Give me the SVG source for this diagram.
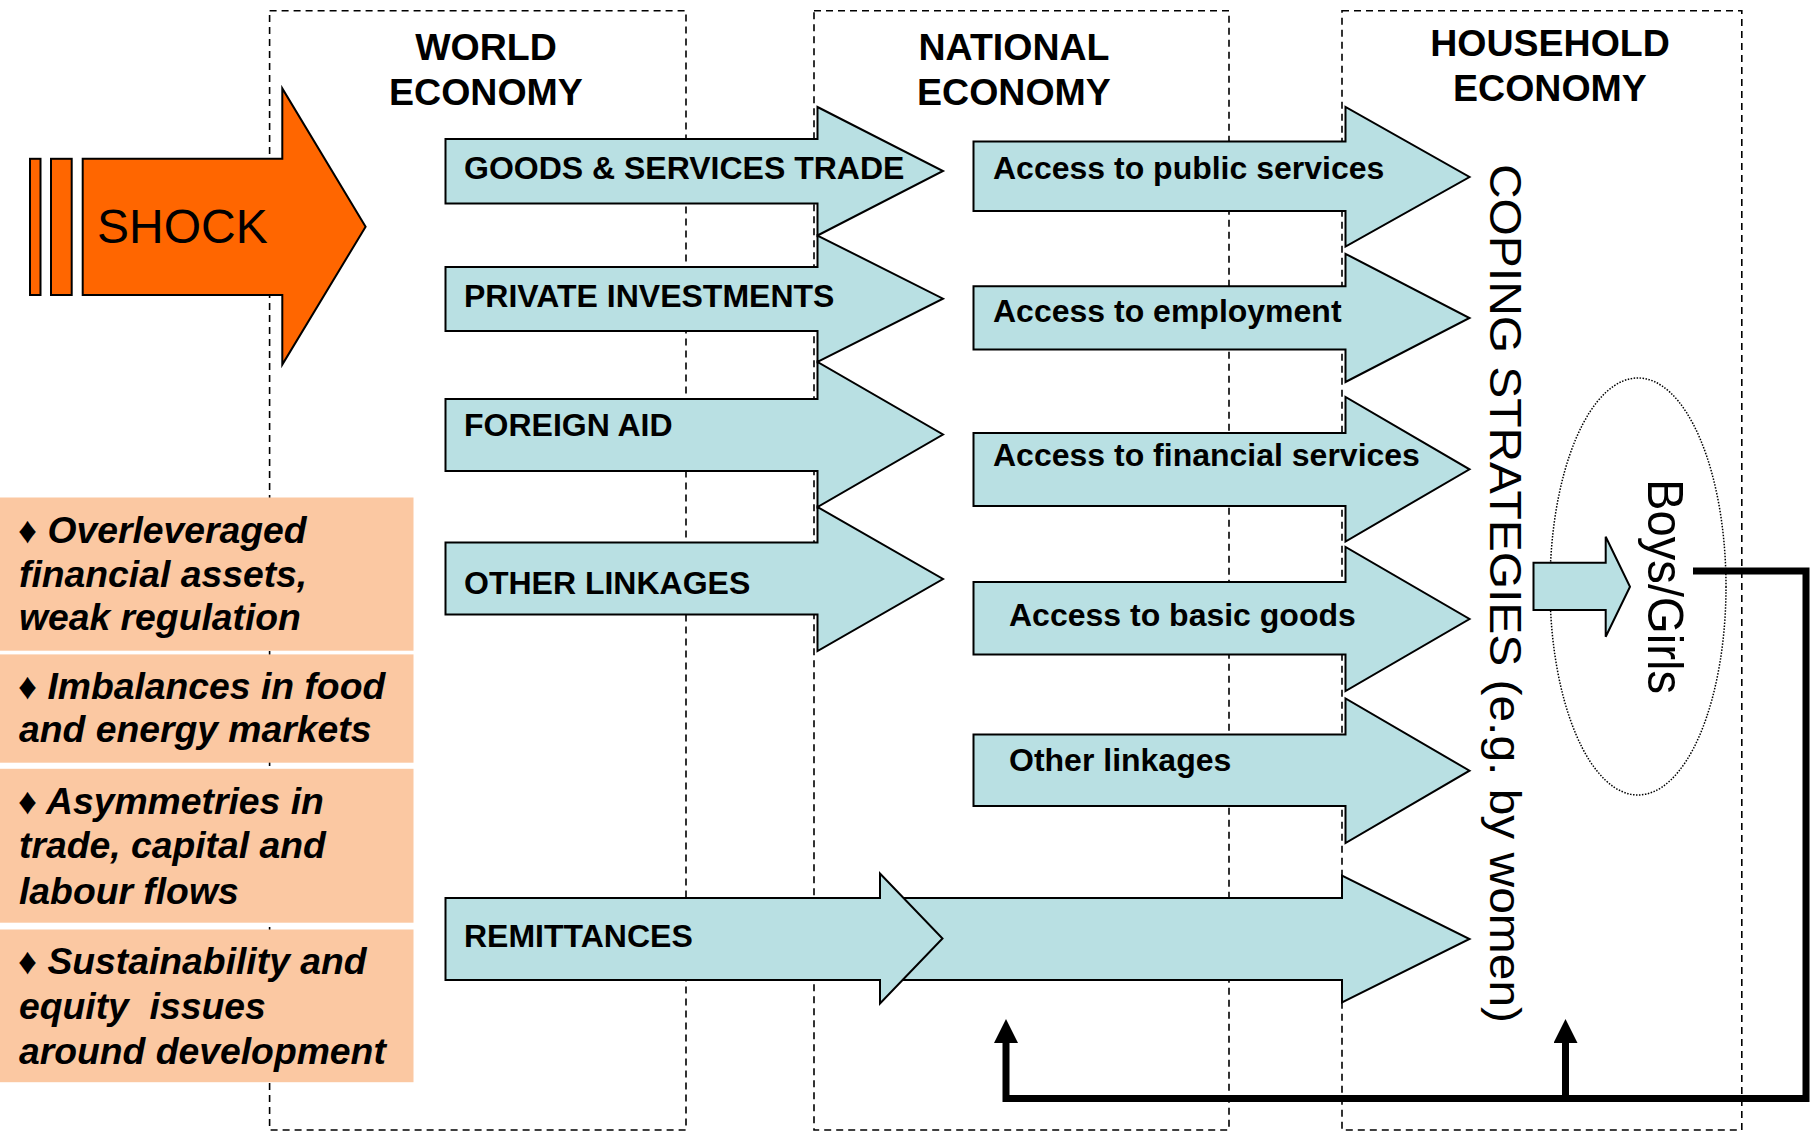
<svg xmlns="http://www.w3.org/2000/svg" width="1814" height="1132" viewBox="0 0 1814 1132">
<defs>
<style>
.dash{fill:none;stroke:#000;stroke-width:1.6;stroke-dasharray:7 5}
.blue{fill:#B9E0E3;stroke:#000;stroke-width:2;stroke-linejoin:miter}
.orange{fill:#FF6600;stroke:#000;stroke-width:2}
.peach{fill:#FBC8A2}
.t{font-family:"Liberation Sans",Arial,sans-serif;fill:#000}
.lbl{font-weight:bold;font-size:32px}
.title{font-weight:bold;font-size:37.5px;text-anchor:middle}
.ptxt{font-weight:bold;font-style:italic;font-size:37.3px}
.fb{fill:none;stroke:#000;stroke-width:7;stroke-linejoin:miter}
</style>
<marker id="ah" viewBox="0 -12 24 24" markerWidth="24" markerHeight="24" refX="0" refY="0" orient="auto" markerUnits="userSpaceOnUse">
<path d="M0,-12 L24,0 L0,12 Z" fill="#000"/>
</marker>
</defs>
<rect width="1814" height="1132" fill="#fff"/>

<g id="columns">
<rect class="dash" x="269.6" y="10.8" width="416.4" height="1119.2"/>
<rect class="dash" x="814" y="10.8" width="415" height="1119.2"/>
<rect class="dash" x="1342" y="10.8" width="399.8" height="1119.2"/>
</g>

<g id="titles" class="t title">
<text x="486" y="59.6">WORLD</text>
<text x="486" y="104.7">ECONOMY</text>
<text x="1014" y="59.6">NATIONAL</text>
<text x="1014" y="104.7">ECONOMY</text>
<text x="1550" y="56">HOUSEHOLD</text>
<text x="1550" y="101">ECONOMY</text>
</g>

<g id="shock">
<rect class="orange" x="30" y="158.8" width="10.5" height="136.2"/>
<rect class="orange" x="51" y="158.8" width="20.7" height="136.2"/>
<polygon class="orange" points="82.7,158.8 282.3,158.8 282.3,88.4 365.6,226.7 282.3,364.6 282.3,295 82.7,295"/>
<text class="t" x="97" y="243" font-size="48">SHOCK</text>
</g>

<g id="remittances-national">
<polygon class="blue" points="885,898 1342,898 1342,875.5 1469.5,939 1342,1002.5 1342,980 885,980"/>
</g>
<g id="remittances">
<polygon class="blue" points="445.5,898 880,898 880,873.5 942.5,938.5 880,1003.5 880,980 445.5,980"/>
<text class="t lbl" x="464" y="947">REMITTANCES</text>
</g>

<g id="goods-services-trade">
<polygon class="blue" points="445.5,139 817.5,139 817.5,107 943,171 817.5,235.5 817.5,203.5 445.5,203.5"/>
<text class="t lbl" x="464" y="179.4">GOODS &amp; SERVICES TRADE</text>
</g>
<g id="private-investments">
<polygon class="blue" points="445.5,267 817.5,267 817.5,235.5 943,298.7 817.5,362 817.5,331 445.5,331"/>
<text class="t lbl" x="464" y="307">PRIVATE INVESTMENTS</text>
</g>
<g id="foreign-aid">
<polygon class="blue" points="445.5,399 817.5,399 817.5,362 943,434.5 817.5,507 817.5,471 445.5,471"/>
<text class="t lbl" x="464" y="436">FOREIGN AID</text>
</g>
<g id="other-linkages-world">
<polygon class="blue" points="445.5,542.5 817.5,542.5 817.5,507 943,579 817.5,651 817.5,614.5 445.5,614.5"/>
<text class="t lbl" x="464" y="594">OTHER LINKAGES</text>
</g>

<g id="access-public-services">
<polygon class="blue" points="973.5,141.5 1345.5,141.5 1345.5,107 1469.5,177 1345.5,246.6 1345.5,211 973.5,211"/>
<text class="t lbl" x="993" y="178.7">Access to public services</text>
</g>
<g id="access-employment">
<polygon class="blue" points="973.5,286.3 1345.5,286.3 1345.5,253.8 1469.5,318 1345.5,382 1345.5,349.4 973.5,349.4"/>
<text class="t lbl" x="993" y="322">Access to employment</text>
</g>
<g id="access-financial-services">
<polygon class="blue" points="973.5,433 1345.5,433 1345.5,397 1469.5,469.3 1345.5,541.5 1345.5,506 973.5,506"/>
<text class="t lbl" x="993" y="466.4">Access to financial services</text>
</g>
<g id="access-basic-goods">
<polygon class="blue" points="973.5,582 1345.5,582 1345.5,547 1469.5,619 1345.5,691 1345.5,654.5 973.5,654.5"/>
<text class="t lbl" x="1009" y="625.6">Access to basic goods</text>
</g>
<g id="other-linkages-national">
<polygon class="blue" points="973.5,734.5 1345.5,734.5 1345.5,698.5 1469.5,770.7 1345.5,843 1345.5,806 973.5,806"/>
<text class="t lbl" x="1009" y="771">Other linkages</text>
</g>

<g id="coping-strategies">
<text class="t" transform="translate(1490,164) rotate(90)" font-size="45" textLength="859" lengthAdjust="spacingAndGlyphs">COPING STRATEGIES (e.g. by women)</text>
</g>

<g id="boys-girls">
<ellipse cx="1638" cy="586.5" rx="88" ry="208.5" fill="none" stroke="#000" stroke-width="1.5" stroke-dasharray="1.5 1.5"/>
<polygon class="blue" points="1533.5,562.7 1605.7,562.7 1605.7,536.7 1630,586.7 1605.7,636.7 1605.7,610 1533.5,610"/>
<text class="t" transform="translate(1648,479) rotate(90)" font-size="50" textLength="215" lengthAdjust="spacingAndGlyphs">Boys/Girls</text>
</g>

<g id="causes">
<rect class="peach" x="0" y="497.5" width="413.5" height="153.2"/>
<rect class="peach" x="0" y="654.4" width="413.5" height="108.3"/>
<rect class="peach" x="0" y="768.8" width="413.5" height="153.9"/>
<rect class="peach" x="0" y="929.5" width="413.5" height="152.7"/>
<g class="t ptxt">
<text x="18" y="543.3"><tspan font-style="normal">♦</tspan> Overleveraged</text>
<text x="19" y="587">financial assets,</text>
<text x="19" y="630">weak regulation</text>
<text x="18" y="699.3"><tspan font-style="normal">♦</tspan> Imbalances in food</text>
<text x="19" y="742">and energy markets</text>
<text x="18" y="814.4"><tspan font-style="normal">♦</tspan> Asymmetries in</text>
<text x="19" y="858.4">trade, capital and</text>
<text x="19" y="903.5">labour flows</text>
<text x="18" y="974"><tspan font-style="normal">♦</tspan> Sustainability and</text>
<text x="19" y="1019" xml:space="preserve">equity  issues</text>
<text x="19" y="1063.5">around development</text>
</g>
</g>

<g id="connectors">
<path class="fb" d="M1693,571 H1806 V1098.5 H1006 V1043" marker-end="url(#ah)"/>
<path class="fb" d="M1565.5,1098.5 V1043" marker-end="url(#ah)"/>
</g>
</svg>
